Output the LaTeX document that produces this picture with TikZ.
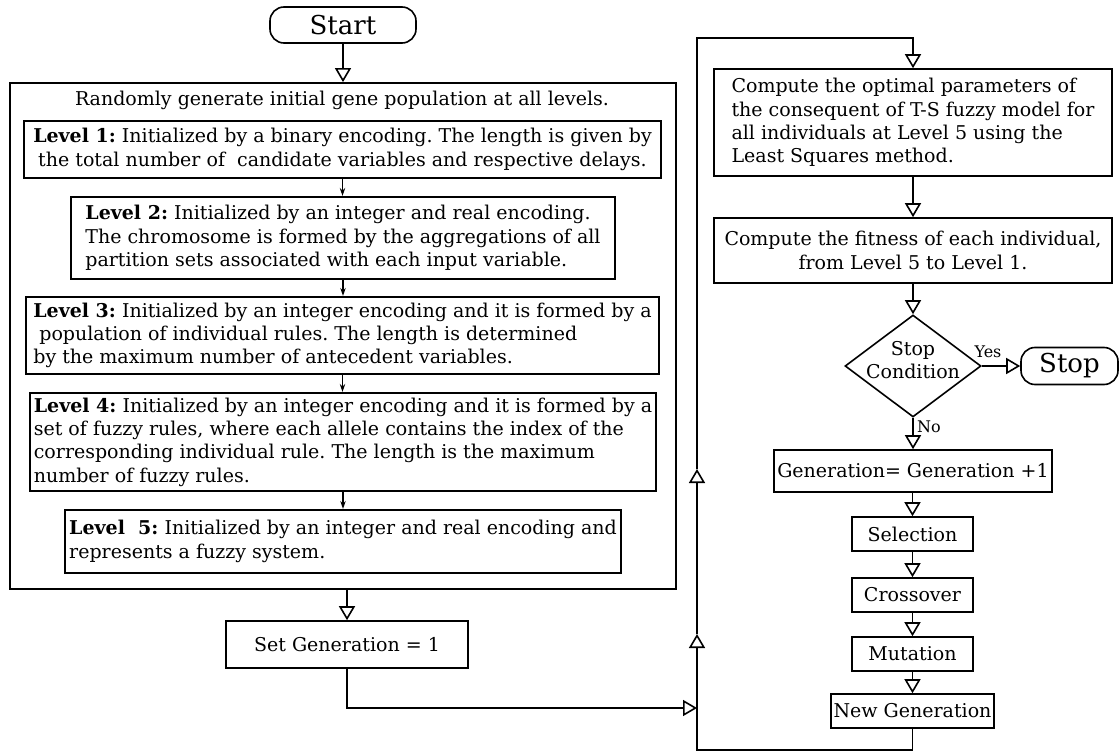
\documentclass[tikz,border=0pt]{standalone}
\usepackage{fontspec}
\setmainfont{DejaVu Serif}
\usetikzlibrary{arrows.meta,shapes.geometric}
\newcommand\mainsz{\fontsize{19}{23.3}\selectfont}
\newcommand\bigsz{\fontsize{26}{30}\selectfont}
\newcommand\tagsz{\fontsize{16}{19}\selectfont}
\frenchspacing
\begin{document}
\begin{tikzpicture}[x=1pt,y=-1pt,
  box/.style={draw, line width=1.6pt, inner sep=0pt, font=\mainsz, align=center},
  lvl/.style={draw, line width=2.2pt, inner sep=0pt, font=\mainsz, align=left},
  outer/.style={draw, line width=1.8pt, inner sep=0pt},
  term/.style={draw, line width=1.6pt, rounded corners=14pt, inner sep=0pt, font=\bigsz},
  decision/.style={draw, diamond, line width=1.6pt, inner sep=0pt},
  oarr/.style={line width=1.6pt, -{Triangle[open,length=14pt,width=16pt,line width=1.6pt]}},
  sarr/.style={line width=1.2pt, -{Stealth[length=8pt,width=5.5pt]}},
  tag/.style={font=\tagsz, inner sep=0pt}]
\useasboundingbox (0,0) rectangle (1120,752);

% left column: initialisation
\node[term, minimum width=146, minimum height=36] (start) at (343,25) {Start};
\node[outer, minimum width=666, minimum height=506] (init) at (343,336) {};
\node[font=\mainsz, inner sep=0pt] (title) at (342,100) {Randomly generate initial gene population at all levels.};

\node[lvl, align=center, minimum width=637, minimum height=57] (l1) at (342.5,149.5)
  {\textbf{Level 1:} Initialized by a binary encoding. The length is given by\\the total number of\ \ candidate variables and respective delays.};
\node[lvl, minimum width=544, minimum height=82] (l2) at (343,238)
  {\textbf{Level 2:} Initialized by an integer and real encoding.\\The chromosome is formed by the aggregations of all\\partition sets associated with each input variable.};
\node[lvl, minimum width=633, minimum height=77] (l3) at (342.5,335.5)
  {\textbf{Level 3:} Initialized by an integer encoding and it is formed by a\\\hspace*{6pt}population of individual rules. The length is determined\\by the maximum number of antecedent variables.};
\node[lvl, minimum width=626, minimum height=98] (l4) at (343,442)
  {\textbf{Level 4:} Initialized by an integer encoding and it is formed by a\\set of fuzzy rules, where each allele contains the index of the\\corresponding individual rule. The length is the maximum\\number of fuzzy rules.};
\node[lvl, minimum width=556, minimum height=63] (l5) at (343,541.5)
  {\textbf{Level\ \ 5:} Initialized by an integer and real encoding and\\represents a fuzzy system.};

\node[box, minimum width=242, minimum height=47] (setgen) at (347,644.5) {Set Generation = 1};

% right column: evolution loop
\node[box, align=left, minimum width=398, minimum height=107] (optim) at (913,122.5)
  {Compute the optimal parameters of\\the consequent of T-S fuzzy model for\\all individuals at Level 5 using the\\Least Squares method.};
\node[box, minimum width=398, minimum height=65] (fitness) at (913,250.5)
  {Compute the fitness of each individual,\\from Level 5 to Level 1.};
\node[decision, minimum width=136, minimum height=102,
  label={[font=\mainsz, align=center, inner sep=0pt, yshift=6pt]center:Stop\\Condition}] (cond) at (913,366) {};
\node[term, minimum width=97, minimum height=37] (stop) at (1069.5,366) {Stop};
\node[box, minimum width=278, minimum height=42] (gen) at (913,471) {Generation= Generation +1};
\node[box, minimum width=121, minimum height=34] (sel) at (912.5,534) {Selection};
\node[box, minimum width=121, minimum height=34] (cross) at (912.5,595) {Crossover};
\node[box, minimum width=121, minimum height=34] (mut) at (912.5,654) {Mutation};
\node[box, minimum width=163, minimum height=34] (newgen) at (912.5,711) {New Generation};

\node[tag] (yes) at (988,352) {Yes};
\node[tag] (no) at (929,427) {No};

% loop line coordinates
\coordinate (lb) at (697,750);
\coordinate (ua) at (697,634);
\coordinate (ub) at (697,469);
\coordinate (sj) at (697,708);
\coordinate (lt) at (697,38);

% connectors
\draw[oarr] (start.south) -- (start.south |- init.north);
\draw[sarr] (l1.south) -- (l1.south |- l2.north);
\draw[sarr] (l2.south) -- (l2.south |- l3.north);
\draw[sarr] (l3.south) -- (l3.south |- l4.north);
\draw[sarr] (l4.south) -- (l4.south |- l5.north);
\draw[oarr] (setgen.north |- init.south) -- (setgen.north);
\draw[oarr] (setgen.south) |- (sj);

\draw[oarr] (newgen.south) |- (lb) -- (ua);
\draw[oarr] (ua) -- (ub);
\draw[oarr] (ub) -- (lt) -| (optim.north);

\draw[oarr] (optim.south) -- (optim.south |- fitness.north);
\draw[oarr] (fitness.south) -- (fitness.south |- cond.north);
\draw[oarr] (cond.east) -- (cond.east -| stop.west);
\draw[oarr] (cond.south) -- (cond.south |- gen.north);
\draw[oarr] (gen.south -| sel.north) -- (sel.north);
\draw[oarr] (sel.south) -- (cross.north);
\draw[oarr] (cross.south) -- (mut.north);
\draw[oarr] (mut.south) -- (newgen.north);
\end{tikzpicture}
\end{document}
